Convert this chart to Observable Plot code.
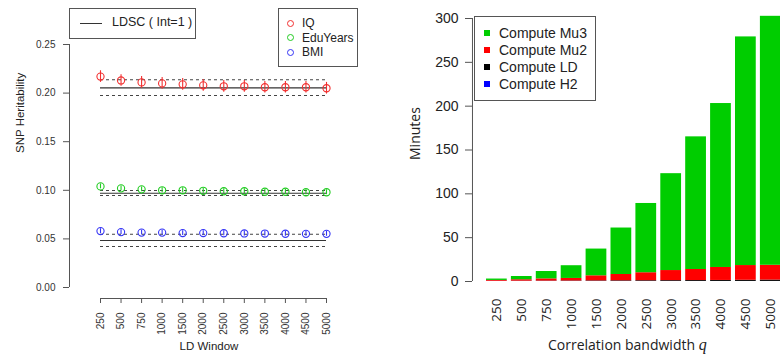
<!DOCTYPE html>
<html>
<head>
<meta charset="utf-8">
<script src="https://cdn.jsdelivr.net/npm/d3@7"></script>
<script src="https://cdn.jsdelivr.net/npm/@observablehq/plot@0.6"></script>
<style>
  html, body { margin: 0; padding: 0; background: #fff; }
  #wrap { position: relative; width: 780px; height: 360px; overflow: hidden; font-family: "Liberation Sans", Arial, sans-serif; color: #222; }
  #left, #right { position: absolute; top: 0; }
  #left { left: 0; }
  #right { left: 390px; }
  .box { position: absolute; border: 1px solid #555; background: #fff; box-sizing: border-box; }
  .row { position: absolute; white-space: nowrap; line-height: 1; }
</style>
</head>
<body>
<div id="wrap">
  <div id="left"></div>
  <div id="right"></div>
</div>
<script>
// ---------- Left panel data ----------
const windows = ["250","500","750","1000","1500","2000","2500","3000","3500","4000","4500","5000"];
const traits = ["IQ","EduYears","BMI"];
const traitColors = ["#f23030","#22cc22","#3535f5"];
const iqH2  = [0.217,0.213,0.211,0.210,0.209,0.208,0.207,0.207,0.206,0.206,0.206,0.205];
const iqSE  = [0.006,0.006,0.006,0.006,0.006,0.006,0.006,0.006,0.006,0.006,0.006,0.006];
const eduH2 = [0.104,0.102,0.101,0.100,0.100,0.0995,0.099,0.099,0.0985,0.0985,0.098,0.098];
const eduSE = [0.0025,0.0025,0.0025,0.0025,0.0025,0.0025,0.0025,0.0025,0.0025,0.0025,0.0025,0.0025];
const bmiH2 = [0.058,0.057,0.0565,0.0565,0.056,0.056,0.0558,0.0556,0.0555,0.0553,0.0552,0.0552];
const bmiSE = [0.0025,0.0025,0.0025,0.0025,0.0025,0.0025,0.0025,0.0025,0.0025,0.0025,0.0025,0.0025];
const ldscEst = [0.2054,0.0970,0.0483];
const ldscLo  = [0.1975,0.0946,0.0422];
const ldscHi  = [0.2137,0.0998,0.0548];
const yTicksLeft = [0,0.05,0.10,0.15,0.20,0.25];

// ---------- Right panel data ----------
const bandwidths = ["250","500","750","1000","1500","2000","2500","3000","3500","4000","4500","5000"];
const tasks = ["Compute H2","Compute LD","Compute Mu2","Compute Mu3"];
const taskColors = ["#0000ff","#000000","#ff0000","#00cd00"];
const minH2  = [0.1,0.1,0.1,0.1,0.1,0.1,0.1,0.1,0.1,0.1,0.1,0.1];
const minLD  = [0.2,0.3,0.4,0.5,0.6,0.7,0.8,0.9,1.0,1.1,1.3,1.5];
const minMu2 = [0.9,1.6,2.5,2.9,5.8,7.2,9.1,11.5,12.6,14.8,16.8,16.9];
const minMu3 = [1.6,3.7,8.4,14.5,30.5,53,79,110.5,151.3,187,260.8,284];
const yTicksRight = [0,50,100,150,200,250,300];

// ---------- Left panel ----------
const series = [iqH2, eduH2, bmiH2];
const ses = [iqSE, eduSE, bmiSE];
const pts = [];
traits.forEach((t, k) => windows.forEach((w, i) => pts.push({trait: t, w, h: series[k][i], lo: series[k][i] - ses[k][i], hi: series[k][i] + ses[k][i]})));
const solid = ldscEst.map(v => ({v, a: windows[0], b: windows[windows.length - 1]}));
const dashed = ldscLo.concat(ldscHi).map(v => ({v, a: windows[0], b: windows[windows.length - 1]}));

const left = Plot.plot({
  width: 390, height: 360,
  marginLeft: 69, marginTop: 44, marginBottom: 73, marginRight: 30,
  style: {fontFamily: "Liberation Sans, Arial, sans-serif", color: "#333", background: "transparent"},
  x: {type: "point", domain: windows, range: [100, 326], padding: 0, round: false},
  y: {domain: [0, 0.25]},
  color: {domain: traits, range: traitColors},
  marks: [
    Plot.ruleX([windows[0]], {x: d => d, y1: 0, y2: 0.25, dx: -31, stroke: "#555"}),
    Plot.axisY({ticks: yTicksLeft, tickFormat: d => d.toFixed(2), tickSize: 6, tickPadding: 8, fontSize: 10, label: null, stroke: "#555"}),
    Plot.ruleY([0], {x1: () => windows[0], x2: () => windows[windows.length - 1], dy: 11, stroke: "#555"}),
    Plot.axisX({tickRotate: -90, tickSize: 5, tickPadding: 9, dy: 11, fontSize: 10, label: null, stroke: "#555"}),
    Plot.ruleY(solid, {y: "v", x1: "a", x2: "b", stroke: "#333", strokeWidth: 1.1}),
    Plot.ruleY(dashed, {y: "v", x1: "a", x2: "b", stroke: "#444", strokeWidth: 1.1, strokeDasharray: "3,3"}),
    Plot.ruleX(pts, {x: "w", y1: "lo", y2: "hi", stroke: "trait", strokeWidth: 1.1}),
    Plot.dot(pts, {x: "w", y: "h", stroke: "trait", r: 3.6, strokeWidth: 1.1, fill: "none"}),
    Plot.text(["LD Window"], {frameAnchor: "bottom", dx: -6, dy: 62, fontSize: 11.5, fill: "#222"}),
    Plot.text(["SNP Heritability"], {frameAnchor: "left", rotate: -90, dx: -49, dy: -13, fontSize: 11.5, fill: "#222"})
  ]
});
document.getElementById("left").appendChild(left);

// ---------- Right panel ----------
const comps = [minH2, minLD, minMu2, minMu3];
const bars = [];
bandwidths.forEach((q, i) => tasks.forEach((t, k) => bars.push({q, task: t, minutes: comps[k][i]})));

const right = Plot.plot({
  width: 390, height: 360,
  marginLeft: 82, marginTop: 18, marginBottom: 79, marginRight: 0,
  style: {fontFamily: "Liberation Sans, Arial, sans-serif", color: "#222", background: "transparent"},
  x: {type: "band", domain: bandwidths, range: [96, 390.65], paddingInner: 0.1667, paddingOuter: 0, round: false, align: 0},
  y: {domain: [0, 300]},
  color: {domain: tasks, range: taskColors},
  marks: [
    Plot.barY(bars, {x: "q", y: "minutes", fill: "task", inset: 0}),
    Plot.ruleX([bandwidths[0]], {x: d => d, y1: 0, y2: 300, dx: -24.4, stroke: "#555"}),
    Plot.axisY({ticks: yTicksRight, tickSize: 7, tickPadding: 7, fontSize: 14, label: null, stroke: "#555"}),
    Plot.axisX({tickRotate: -90, tickSize: 0, tickPadding: 17, fontSize: 13.5, label: null, fontFamily: "Open Sans, sans-serif"}),
    Plot.text(["Minutes"], {frameAnchor: "left", rotate: -90, dx: -57, dy: 10, fontSize: 14, fontFamily: "Open Sans, sans-serif", fill: "#222"})
  ]
});
document.getElementById("right").appendChild(right);

// ---------- Legends ----------
const wrap = document.getElementById("wrap");
function el(cls, style, html) { const d = document.createElement("div"); d.className = cls; Object.assign(d.style, style); if (html) d.innerHTML = html; wrap.appendChild(d); return d; }

// LDSC legend
el("box", {left: "69px", top: "8px", width: "127px", height: "31px"});
el("row", {left: "80px", top: "22.5px", width: "22px", height: "0", borderTop: "1px solid #333"});
el("row", {left: "112px", top: "16px", fontSize: "12.5px"}, "LDSC ( Int=1 )");

// trait legend
el("box", {left: "278px", top: "8px", width: "80px", height: "59px"});
traits.forEach((t, k) => {
  const y = 23 + k * 14.5;
  el("row", {left: "287px", top: (y - 3.5) + "px", width: "5px", height: "5px", border: "1.1px solid " + traitColors[k], borderRadius: "50%"});
  el("row", {left: "302px", top: (y - 6) + "px", fontSize: "12px"}, t);
});

// tasks legend
el("box", {left: "474px", top: "16px", width: "122px", height: "85px"});
const order = ["Compute Mu3","Compute Mu2","Compute LD","Compute H2"];
order.forEach((t, k) => {
  const y = 33 + k * 17;
  el("row", {left: "484px", top: (y - 3) + "px", width: "6px", height: "6px", background: taskColors[tasks.indexOf(t)]});
  el("row", {left: "499px", top: (y - 7.5) + "px", fontSize: "14px"}, t);
});

// axis title with italic q
el("row", {left: "548px", top: "337px", fontSize: "14px", fontFamily: "Open Sans, sans-serif"}, 'Correlation bandwidth <span style="font-family:\'Liberation Serif\',serif;font-style:italic;font-size:16px">q</span>');
</script>
</body>
</html>
